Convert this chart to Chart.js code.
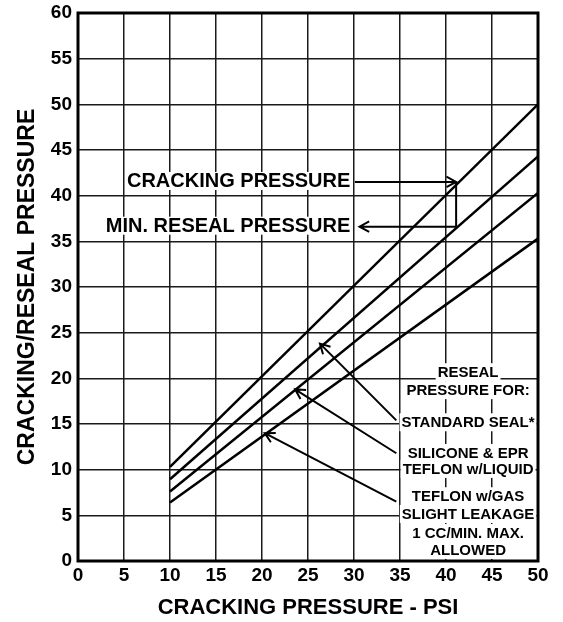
<!DOCTYPE html>
<html>
<head>
<meta charset="utf-8">
<script src="https://cdn.jsdelivr.net/npm/chart.js@4/dist/chart.umd.min.js"></script>
<style>
  html, body { margin: 0; padding: 0; background: #fff; }
</style>
</head>
<body>
<canvas id="valveChart" width="563" height="622"></canvas>
<script>
// values (psi)
const pressureX = [10, 50];
const crackingPressure = [10.3, 50];
const standardSeal = [8.95, 44.3];
const siliconeEpr = [7.6, 40.3];
const teflonGas = [6.4, 35.3];

// notes, placed in data units
const leftNotes = ["CRACKING PRESSURE", "MIN. RESEAL PRESSURE"];
const leftNoteY = [41.5, 36.6];
const leftNoteRight = 29.6;

const resealNotes = ["RESEAL", "PRESSURE FOR:", "STANDARD SEAL*", "SILICONE & EPR",
    "TEFLON w/LIQUID", "TEFLON w/GAS", "SLIGHT LEAKAGE", "1 CC/MIN. MAX.", "ALLOWED"];
const resealNoteY = [20.56, 18.6, 15.08, 11.72, 9.97, 6.98, 5.04, 2.96, 1.1];
const resealNoteX = 42.4;

const pointerTail = [[34.6, 15.4], [34.6, 11.8], [34.6, 6.5]];
const pointerTip = [[26.3, 23.8], [23.6, 18.8], [20.3, 14.0]];

const FONT = "'Liberation Sans', Arial, Helvetica, sans-serif";

function toPoints(ys) {
    return pressureX.map((x, i) => ({ x: x, y: ys[i] }));
}

function drawArrow(ctx, x1, y1, x2, y2) {
    let ang = Math.atan2(y2 - y1, x2 - x1);
    let len = 11;
    ctx.beginPath();
    ctx.moveTo(x1, y1);
    ctx.lineTo(x2, y2);
    ctx.moveTo(x2 - len * Math.cos(ang - 0.5), y2 - len * Math.sin(ang - 0.5));
    ctx.lineTo(x2, y2);
    ctx.lineTo(x2 - len * Math.cos(ang + 0.5), y2 - len * Math.sin(ang + 0.5));
    ctx.stroke();
}

function drawNote(ctx, text, px, py, align) {
    let w = ctx.measureText(text).width;
    let left = align === "right" ? px - w : px - w / 2;
    ctx.fillStyle = "#fff";
    ctx.fillRect(left - 2, py - 10, w + 4, 18);
    ctx.fillStyle = "#000";
    ctx.textAlign = align;
    ctx.textBaseline = "middle";
    ctx.fillText(text, px, py);
}

const notesPlugin = {
    id: "notes",
    afterDatasetsDraw(chart) {
        const { ctx, chartArea } = chart;
        const xs = chart.scales.x, ys = chart.scales.y;
        const px = v => xs.getPixelForValue(v);
        const py = v => ys.getPixelForValue(v);

        ctx.save();
        ctx.strokeStyle = "#000";
        ctx.lineWidth = 2;

        ctx.font = "bold 20px " + FONT;
        leftNotes.forEach((t, i) => drawNote(ctx, t, px(leftNoteRight), py(leftNoteY[i]), "right"));

        ctx.font = "bold 15px " + FONT;
        resealNotes.forEach((t, i) => drawNote(ctx, t, px(resealNoteX), py(resealNoteY[i]), "center"));

        // cracking -> reseal bracket
        drawArrow(ctx, px(30.1), py(41.5), px(41.1), py(41.5));
        ctx.beginPath();
        ctx.moveTo(px(41.1), py(41.5));
        ctx.lineTo(px(41.1), py(36.6));
        ctx.stroke();
        drawArrow(ctx, px(41.1), py(36.6), px(30.6), py(36.6));

        pointerTail.forEach((t, i) => {
            drawArrow(ctx, px(t[0]), py(t[1]), px(pointerTip[i][0]), py(pointerTip[i][1]));
        });

        // heavy frame
        ctx.lineWidth = 3;
        ctx.strokeRect(chartArea.left, chartArea.top, chartArea.right - chartArea.left, chartArea.bottom - chartArea.top);
        ctx.restore();
    }
};

const lineStyle = {
    borderColor: "#000",
    borderWidth: 2.5,
    pointRadius: 0,
    showLine: true,
    fill: false
};

new Chart(document.getElementById("valveChart"), {
    type: "scatter",
    data: {
        datasets: [
            Object.assign({ label: "Cracking pressure", data: toPoints(crackingPressure) }, lineStyle),
            Object.assign({ label: "Standard seal", data: toPoints(standardSeal) }, lineStyle),
            Object.assign({ label: "Silicone & EPR / Teflon w/liquid", data: toPoints(siliconeEpr) }, lineStyle),
            Object.assign({ label: "Teflon w/gas", data: toPoints(teflonGas) }, lineStyle)
        ]
    },
    options: {
        responsive: false,
        animation: false,
        layout: { padding: { top: 13, right: 25, left: 0, bottom: 0 } },
        plugins: {
            legend: { display: false },
            tooltip: { enabled: false }
        },
        scales: {
            x: {
                type: "linear",
                min: 0,
                max: 50,
                afterFit: s => { s.height = 61; s.paddingLeft = 0; s.paddingRight = 0; },
                ticks: { stepSize: 5, color: "#000", padding: 3, maxRotation: 0,
                    font: { family: FONT, size: 19, weight: "bold" } },
                grid: { color: "#1a1a1a", lineWidth: 1.5, drawTicks: false },
                border: { display: false },
                title: {
                    display: true,
                    text: "CRACKING PRESSURE - PSI",
                    color: "#000",
                    font: { family: FONT, size: 22, weight: "bold", lineHeight: 1 },
                    padding: { top: 0, bottom: 3 }
                }
            },
            y: {
                type: "linear",
                min: 0,
                max: 60,
                afterFit: s => { s.width = 78; s.paddingTop = 0; s.paddingBottom = 0; },
                ticks: { stepSize: 5, color: "#000", padding: 6,
                    font: { family: FONT, size: 19, weight: "bold" } },
                grid: { color: "#1a1a1a", lineWidth: 1.5, drawTicks: false },
                border: { display: false },
                title: {
                    display: true,
                    text: "CRACKING/RESEAL PRESSURE",
                    color: "#000",
                    font: { family: FONT, size: 23, weight: "bold", lineHeight: 1 },
                    padding: { top: 16, bottom: 0 }
                }
            }
        }
    },
    plugins: [notesPlugin]
});
</script>
</body>
</html>
